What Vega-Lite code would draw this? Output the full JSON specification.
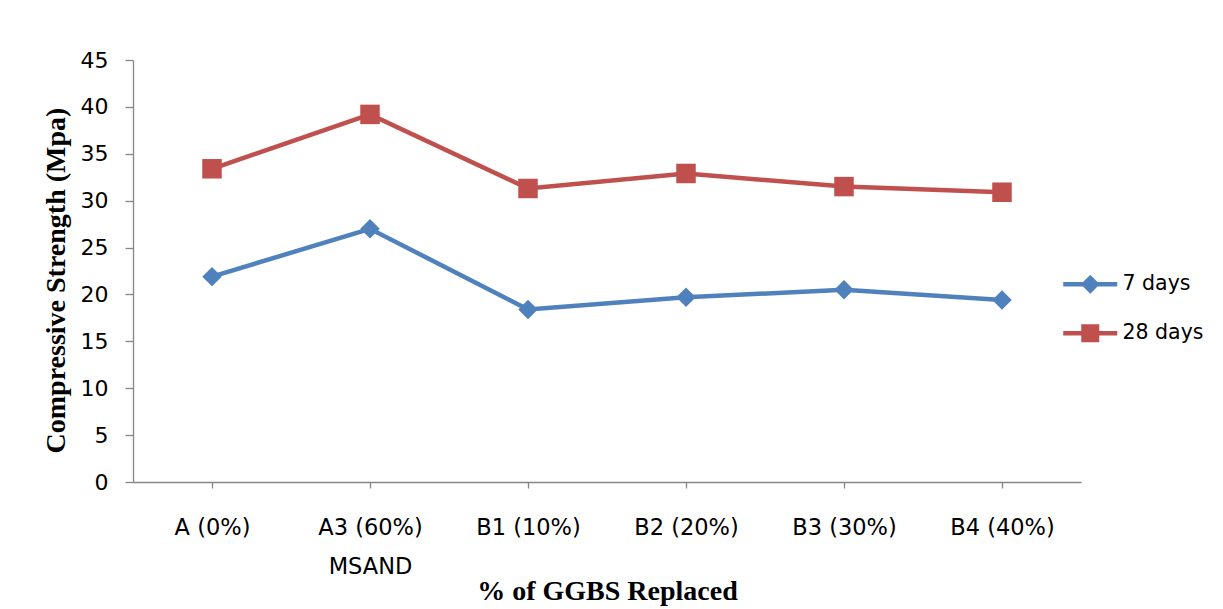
{
  "$schema": "https://vega.github.io/schema/vega-lite/v6.json",
  "autosize": {"type": "none"},
  "width": 948,
  "height": 422,
  "padding": {"left": 133, "top": 60, "right": 142, "bottom": 127},
  "background": "white",
  "config": {
    "view": {"stroke": null},
    "axis": {
      "domainColor": "#868686",
      "tickColor": "#868686",
      "domainWidth": 1.3,
      "tickWidth": 1.3,
      "grid": false,
      "labelColor": "#000000",
      "labelFont": "DejaVu Sans",
      "titleFont": "Liberation Serif",
      "titleFontWeight": "bold",
      "titleColor": "#000000",
      "titleFontSize": 28
    },
    "legend": {
      "title": null,
      "orient": "none",
      "padding": 0,
      "symbolSize": 400,
      "symbolStrokeWidth": 0,
      "labelFont": "DejaVu Sans",
      "labelFontSize": 20.5,
      "labelColor": "#000000",
      "labelOffset": 22
    }
  },
  "data": {
    "values": [
      {"mix": "A (0%)", "age": "7 days", "strength": 21.9},
      {"mix": "A3 (60%) MSAND", "age": "7 days", "strength": 27.0},
      {"mix": "B1 (10%)", "age": "7 days", "strength": 18.4},
      {"mix": "B2 (20%)", "age": "7 days", "strength": 19.7},
      {"mix": "B3 (30%)", "age": "7 days", "strength": 20.5},
      {"mix": "B4 (40%)", "age": "7 days", "strength": 19.4},
      {"mix": "A (0%)", "age": "28 days", "strength": 33.4},
      {"mix": "A3 (60%) MSAND", "age": "28 days", "strength": 39.2},
      {"mix": "B1 (10%)", "age": "28 days", "strength": 31.3},
      {"mix": "B2 (20%)", "age": "28 days", "strength": 32.9},
      {"mix": "B3 (30%)", "age": "28 days", "strength": 31.5},
      {"mix": "B4 (40%)", "age": "28 days", "strength": 30.9}
    ]
  },
  "encoding": {
    "x": {
      "field": "mix",
      "type": "nominal",
      "sort": ["A (0%)", "A3 (60%) MSAND", "B1 (10%)", "B2 (20%)", "B3 (30%)", "B4 (40%)"],
      "scale": {"type": "point", "padding": 0.5},
      "axis": {
        "title": "% of GGBS Replaced",
        "labelAngle": 0,
        "labelFontSize": 22.5,
        "labelLineHeight": 39,
        "labelPadding": 28,
        "tickSize": 6,
        "labelExpr": "datum.value == 'A3 (60%) MSAND' ? ['A3 (60%)', 'MSAND'] : datum.label",
        "titleBaseline": "alphabetic",
        "titleY": 117
      }
    },
    "y": {
      "field": "strength",
      "type": "quantitative",
      "scale": {"domain": [0, 45], "nice": false},
      "axis": {
        "title": "Compressive Strength (Mpa)",
        "values": [0, 5, 10, 15, 20, 25, 30, 35, 40, 45],
        "labelFontSize": 22,
        "labelPadding": 17,
        "tickSize": 8,
        "titleBaseline": "middle",
        "titleX": -77,
        "titleY": 220
      }
    }
  },
  "layer": [
    {
      "mark": {"type": "line", "strokeWidth": 4.5},
      "encoding": {
        "stroke": {
          "field": "age",
          "type": "nominal",
          "scale": {"domain": ["7 days", "28 days"], "range": ["#4F81BD", "#C0504D"]},
          "legend": null
        }
      }
    },
    {
      "transform": [{"filter": "datum.age === '7 days'"}],
      "mark": {"type": "point", "shape": "diamond", "filled": true, "opacity": 1, "size": 380},
      "encoding": {
        "fill": {
          "field": "age",
          "type": "nominal",
          "scale": {"domain": ["7 days"], "range": ["#4F81BD"]},
          "legend": {
            "legendX": 947,
            "legendY": 214,
            "symbolType": "M-2.7,-0.22H2.7V0.22H-2.7Z M0,-0.95L0.95,0L0,0.95L-0.95,0Z"
          }
        }
      }
    },
    {
      "transform": [{"filter": "datum.age === '28 days'"}],
      "mark": {"type": "point", "shape": "square", "filled": true, "opacity": 1, "size": 380},
      "encoding": {
        "color": {
          "field": "age",
          "type": "nominal",
          "scale": {"domain": ["28 days"], "range": ["#C0504D"]},
          "legend": {
            "legendX": 947,
            "legendY": 263,
            "symbolType": "M-2.7,-0.22H2.7V0.22H-2.7Z M-0.9,-0.9H0.9V0.9H-0.9Z"
          }
        }
      }
    }
  ]
}
